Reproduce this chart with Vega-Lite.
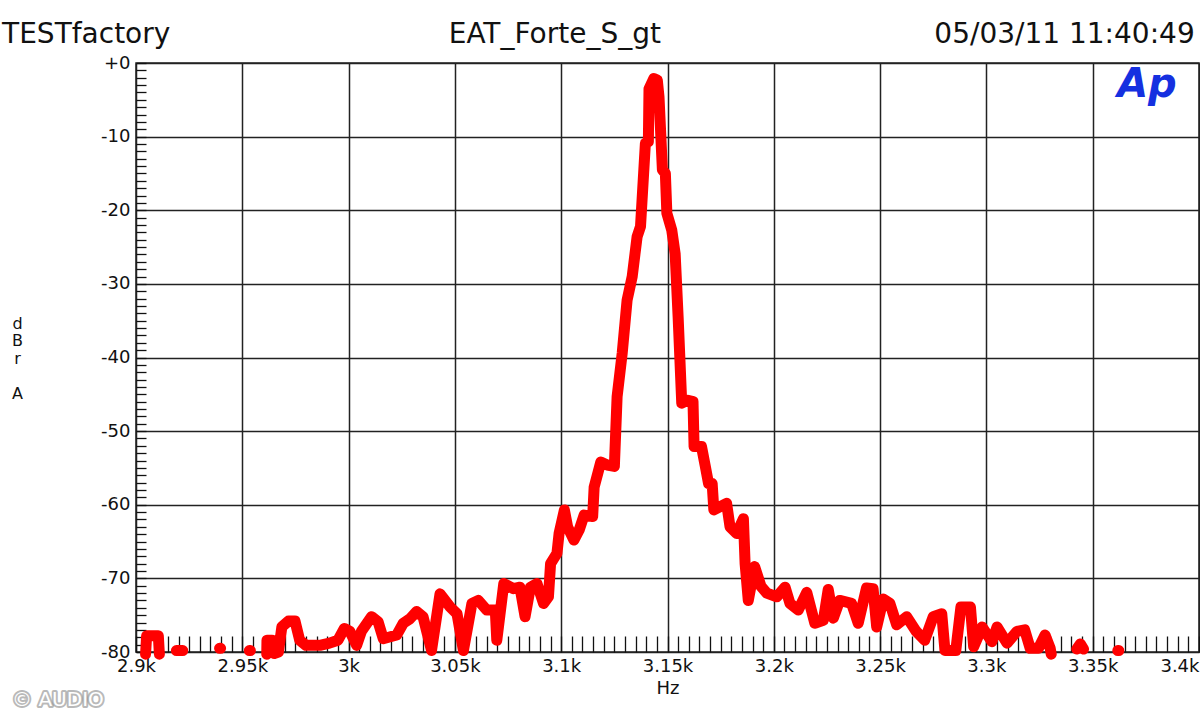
{
  "$schema": "https://vega.github.io/schema/vega-lite/v6.json",
  "width": 1063,
  "height": 589,
  "autosize": {"type": "none"},
  "padding": {"left": 136, "top": 63, "right": 1, "bottom": 68},
  "background": "white",
  "config": {
    "view": {"stroke": "#222222", "strokeWidth": 1.5},
    "font": "DejaVu Sans",
    "axis": {"labelFont": "DejaVu Sans", "titleFont": "DejaVu Sans"}
  },
  "resolve": {"axis": {"x": "independent", "y": "independent"}},
  "layer": [
    {
      "data": {"values": [
        {"f":2904.5,"db":-80.3},{"f":2905,"db":-77.8},{"f":2910.5,"db":-77.8},{"f":2911,"db":-80.3},{"f":2914,"db":null},
        {"f":2919,"db":-79.8},{"f":2922,"db":-79.8},{"f":2928,"db":null},
        {"f":2939.3,"db":-79.5},{"f":2939.8,"db":-79.5},{"f":2946,"db":null},
        {"f":2953.3,"db":-79.8},{"f":2953.8,"db":-79.8},{"f":2957,"db":null},
        {"f":2961.5,"db":-80.3},{"f":2961.6,"db":-78.4},{"f":2964,"db":-78.4},{"f":2965,"db":-80.2},{"f":2967,"db":-80},{"f":2968.6,"db":-76.6},{"f":2971.7,"db":-75.8},{"f":2974.8,"db":-75.8},{"f":2977,"db":-78.4},{"f":2980,"db":-79.1},{"f":2986.5,"db":-79.1},{"f":2991,"db":-78.8},{"f":2995,"db":-78.4},{"f":2998,"db":-76.8},{"f":3000.6,"db":-77.2},{"f":3003.8,"db":-79.1},{"f":3006,"db":-77.2},{"f":3010.8,"db":-75.2},{"f":3013.9,"db":-75.9},{"f":3016.3,"db":-78.2},{"f":3022.6,"db":-77.7},{"f":3025.7,"db":-76.1},{"f":3028.8,"db":-75.5},{"f":3032,"db":-74.5},{"f":3035,"db":-75.2},{"f":3039,"db":-79.8},{"f":3043,"db":-72.1},{"f":3047.8,"db":-73.9},{"f":3051,"db":-74.8},{"f":3054,"db":-79.8},{"f":3058,"db":-73.4},{"f":3061,"db":-73},{"f":3065,"db":-74.3},{"f":3069,"db":-74.3},{"f":3069.7,"db":-78.4},{"f":3073,"db":-70.7},{"f":3077.5,"db":-71.4},{"f":3080.6,"db":-71.2},{"f":3083,"db":-75.2},{"f":3085.5,"db":-71.2},{"f":3088.6,"db":-70.7},{"f":3091.7,"db":-73.4},{"f":3094,"db":-72.5},{"f":3095,"db":-68},{"f":3098,"db":-66.6},{"f":3099,"db":-63.9},{"f":3101.5,"db":-60.7},{"f":3103,"db":-63},{"f":3106,"db":-64.8},{"f":3108.5,"db":-63.4},{"f":3110.8,"db":-61.4},{"f":3114.8,"db":-61.6},{"f":3115.5,"db":-57.6},{"f":3118.6,"db":-54.2},{"f":3121.7,"db":-54.6},{"f":3125,"db":-54.8},{"f":3126.3,"db":-45.3},{"f":3128.7,"db":-39.4},{"f":3131,"db":-32.2},{"f":3133.4,"db":-29},{"f":3135.7,"db":-23.6},{"f":3137.3,"db":-22.2},{"f":3139.6,"db":-10.9},{"f":3141,"db":-10.7},{"f":3141.3,"db":-3.5},{"f":3143.6,"db":-2.1},{"f":3145.2,"db":-2.3},{"f":3146,"db":-4.6},{"f":3147.6,"db":-14.5},{"f":3149,"db":-15},{"f":3149.7,"db":-20.4},{"f":3152,"db":-22.7},{"f":3153.6,"db":-25.9},{"f":3155,"db":-34.5},{"f":3156.7,"db":-46.2},{"f":3159.5,"db":-45.8},{"f":3162,"db":-46},{"f":3162.5,"db":-52.1},{"f":3166,"db":-52.1},{"f":3167.8,"db":-54.8},{"f":3169.3,"db":-57.1},{"f":3171,"db":-57.1},{"f":3171.8,"db":-60.7},{"f":3177.8,"db":-59.8},{"f":3179.4,"db":-63},{"f":3182.5,"db":-63.9},{"f":3185.7,"db":-61.9},{"f":3186.5,"db":-68},{"f":3188,"db":-73},{"f":3191,"db":-68.4},{"f":3194,"db":-71.1},{"f":3196.7,"db":-72},{"f":3201.4,"db":-72.5},{"f":3205.3,"db":-71.2},{"f":3207.6,"db":-73.4},{"f":3211.5,"db":-74.3},{"f":3215.5,"db":-71.9},{"f":3219.3,"db":-76.1},{"f":3223.3,"db":-75.7},{"f":3225.6,"db":-71.5},{"f":3228,"db":-75.4},{"f":3231,"db":-73},{"f":3236.6,"db":-73.4},{"f":3239.7,"db":-76.1},{"f":3243.6,"db":-71.3},{"f":3246.7,"db":-71.4},{"f":3248.4,"db":-76.6},{"f":3251.5,"db":-72.8},{"f":3254.6,"db":-73.4},{"f":3257.8,"db":-76.3},{"f":3262.5,"db":-75.2},{"f":3267,"db":-77.2},{"f":3271,"db":-78.4},{"f":3275,"db":-75.2},{"f":3279,"db":-74.8},{"f":3280.5,"db":-79.8},{"f":3285.6,"db":-79.8},{"f":3288,"db":-73.9},{"f":3292.5,"db":-73.9},{"f":3294,"db":-79.3},{"f":3298,"db":-76.6},{"f":3302.6,"db":-78.6},{"f":3305,"db":-76.6},{"f":3309.7,"db":-78.8},{"f":3314.4,"db":-77.2},{"f":3318,"db":-77},{"f":3320.6,"db":-79.5},{"f":3324.5,"db":-79.5},{"f":3327.6,"db":-77.7},{"f":3330,"db":-79.5},{"f":3330.5,"db":-80.3},{"f":3336,"db":null},
        {"f":3342.5,"db":-79.6},{"f":3344.2,"db":-78.9},{"f":3345.7,"db":-79.6},{"f":3352,"db":null},
        {"f":3361.8,"db":-79.8},{"f":3362.3,"db":-79.8}
      ]},
      "mark": {"type": "line", "stroke": "#ff0000", "strokeWidth": 11, "strokeJoin": "round", "strokeCap": "round", "invalid": "break-paths-show-domains"},
      "encoding": {
        "x": {
          "field": "f", "type": "quantitative",
          "scale": {"domain": [2900, 3400], "nice": false, "zero": false},
          "axis": {
            "orient": "bottom",
            "values": [2900,2905,2910,2915,2920,2925,2930,2935,2940,2945,2950,2955,2960,2965,2970,2975,2980,2985,2990,2995,3000,3005,3010,3015,3020,3025,3030,3035,3040,3045,3050,3055,3060,3065,3070,3075,3080,3085,3090,3095,3100,3105,3110,3115,3120,3125,3130,3135,3140,3145,3150,3155,3160,3165,3170,3175,3180,3185,3190,3195,3200,3205,3210,3215,3220,3225,3230,3235,3240,3245,3250,3255,3260,3265,3270,3275,3280,3285,3290,3295,3300,3305,3310,3315,3320,3325,3330,3335,3340,3345,3350,3355,3360,3365,3370,3375,3380,3385,3390,3395,3400],
            "offset": -16,
            "domain": false,
            "ticks": true, "tickSize": 16, "tickColor": "#111111", "tickWidth": 1.3,
            "grid": true, "gridColor": "#222222", "gridWidth": 1.5,
            "gridOpacity": {"condition": {"test": "datum.value % 50 === 0", "value": 1}, "value": 0},
            "labelExpr": "datum.value % 50 === 0 ? (datum.value / 1000) + 'k' : ''",
            "labelAlign": {"condition": {"test": "datum.value === 3400", "value": "right"}, "value": "center"},
            "labelFontSize": 18, "labelColor": "#111111", "labelPadding": 5,
            "labelOverlap": false, "labelBound": false, "labelFlush": false,
            "title": "Hz", "titleFontSize": 18, "titleFontWeight": "normal", "titleColor": "#111111",
            "titleY": 52, "titleBaseline": "middle"
          }
        },
        "y": {
          "field": "db", "type": "quantitative",
          "scale": {"domain": [-80, 0], "nice": false, "zero": false},
          "axis": {
            "orient": "left",
            "values": [-80,-79,-78,-77,-76,-75,-74,-73,-72,-71,-70,-69,-68,-67,-66,-65,-64,-63,-62,-61,-60,-59,-58,-57,-56,-55,-54,-53,-52,-51,-50,-49,-48,-47,-46,-45,-44,-43,-42,-41,-40,-39,-38,-37,-36,-35,-34,-33,-32,-31,-30,-29,-28,-27,-26,-25,-24,-23,-22,-21,-20,-19,-18,-17,-16,-15,-14,-13,-12,-11,-10,-9,-8,-7,-6,-5,-4,-3,-2,-1,0],
            "offset": -10,
            "domain": false,
            "ticks": true, "tickSize": 10, "tickColor": "#111111", "tickWidth": 1.3,
            "grid": true, "gridColor": "#222222", "gridWidth": 1.5,
            "gridOpacity": {"condition": {"test": "datum.value % 10 === 0", "value": 1}, "value": 0},
            "labelExpr": "datum.value % 10 !== 0 ? '' : (datum.value === 0 ? '+0' : '-' + (-datum.value))",
            "labelFontSize": 18, "labelColor": "#111111", "labelPadding": 6,
            "labelOverlap": false, "labelBound": false, "labelFlush": false,
            "title": ["d", "B", "r", "\u200b", "A"],
            "titleAngle": 0, "titleX": -129, "titleY": 252, "titleAlign": "center", "titleBaseline": "top",
            "titleFontSize": 16, "titleFontWeight": "normal", "titleLineHeight": 17.5, "titleColor": "#111111"
          }
        }
      }
    },
    {
      "data": {"values": [{"t": "TESTfactory"}]},
      "mark": {"type": "text", "align": "left", "baseline": "alphabetic", "fontSize": 28, "font": "DejaVu Sans", "color": "#111111"},
      "encoding": {
        "x": {"datum": 2837, "type": "quantitative", "axis": null},
        "y": {"datum": 2.7, "type": "quantitative", "axis": null},
        "text": {"field": "t"}
      }
    },
    {
      "data": {"values": [{"t": "EAT_Forte_S_gt"}]},
      "mark": {"type": "text", "align": "center", "baseline": "alphabetic", "fontSize": 28, "font": "DejaVu Sans", "color": "#111111"},
      "encoding": {
        "x": {"datum": 3097, "type": "quantitative", "axis": null},
        "y": {"datum": 2.7, "type": "quantitative", "axis": null},
        "text": {"field": "t"}
      }
    },
    {
      "data": {"values": [{"t": "05/03/11 11:40:49"}]},
      "mark": {"type": "text", "align": "right", "baseline": "alphabetic", "fontSize": 28, "font": "DejaVu Sans", "color": "#111111"},
      "encoding": {
        "x": {"datum": 3398, "type": "quantitative", "axis": null},
        "y": {"datum": 2.7, "type": "quantitative", "axis": null},
        "text": {"field": "t"}
      }
    },
    {
      "data": {"values": [{"t": "Ap"}]},
      "mark": {"type": "text", "align": "left", "baseline": "alphabetic", "fontSize": 40, "font": "DejaVu Sans", "fontWeight": "bold", "fontStyle": "italic", "color": "#1530e0"},
      "encoding": {
        "x": {"datum": 3361.5, "type": "quantitative", "axis": null},
        "y": {"datum": -4.6, "type": "quantitative", "axis": null},
        "text": {"field": "t"}
      }
    },
    {
      "data": {"values": [{"t": "© AUDIO"}]},
      "mark": {"type": "text", "align": "left", "baseline": "alphabetic", "fontSize": 20, "font": "DejaVu Sans", "fill": "#ffffff", "stroke": "#8a8a8a", "strokeWidth": 4, "strokeOpacity": 0.6, "strokeJoin": "round"},
      "encoding": {
        "x": {"datum": 2841.7, "type": "quantitative", "axis": null},
        "y": {"datum": -87.3, "type": "quantitative", "axis": null},
        "text": {"field": "t"}
      }
    },
    {
      "data": {"values": [{"t": "© AUDIO"}]},
      "mark": {"type": "text", "align": "left", "baseline": "alphabetic", "fontSize": 20, "font": "DejaVu Sans", "fill": "#ffffff"},
      "encoding": {
        "x": {"datum": 2841.7, "type": "quantitative", "axis": null},
        "y": {"datum": -87.3, "type": "quantitative", "axis": null},
        "text": {"field": "t"}
      }
    }
  ]
}
